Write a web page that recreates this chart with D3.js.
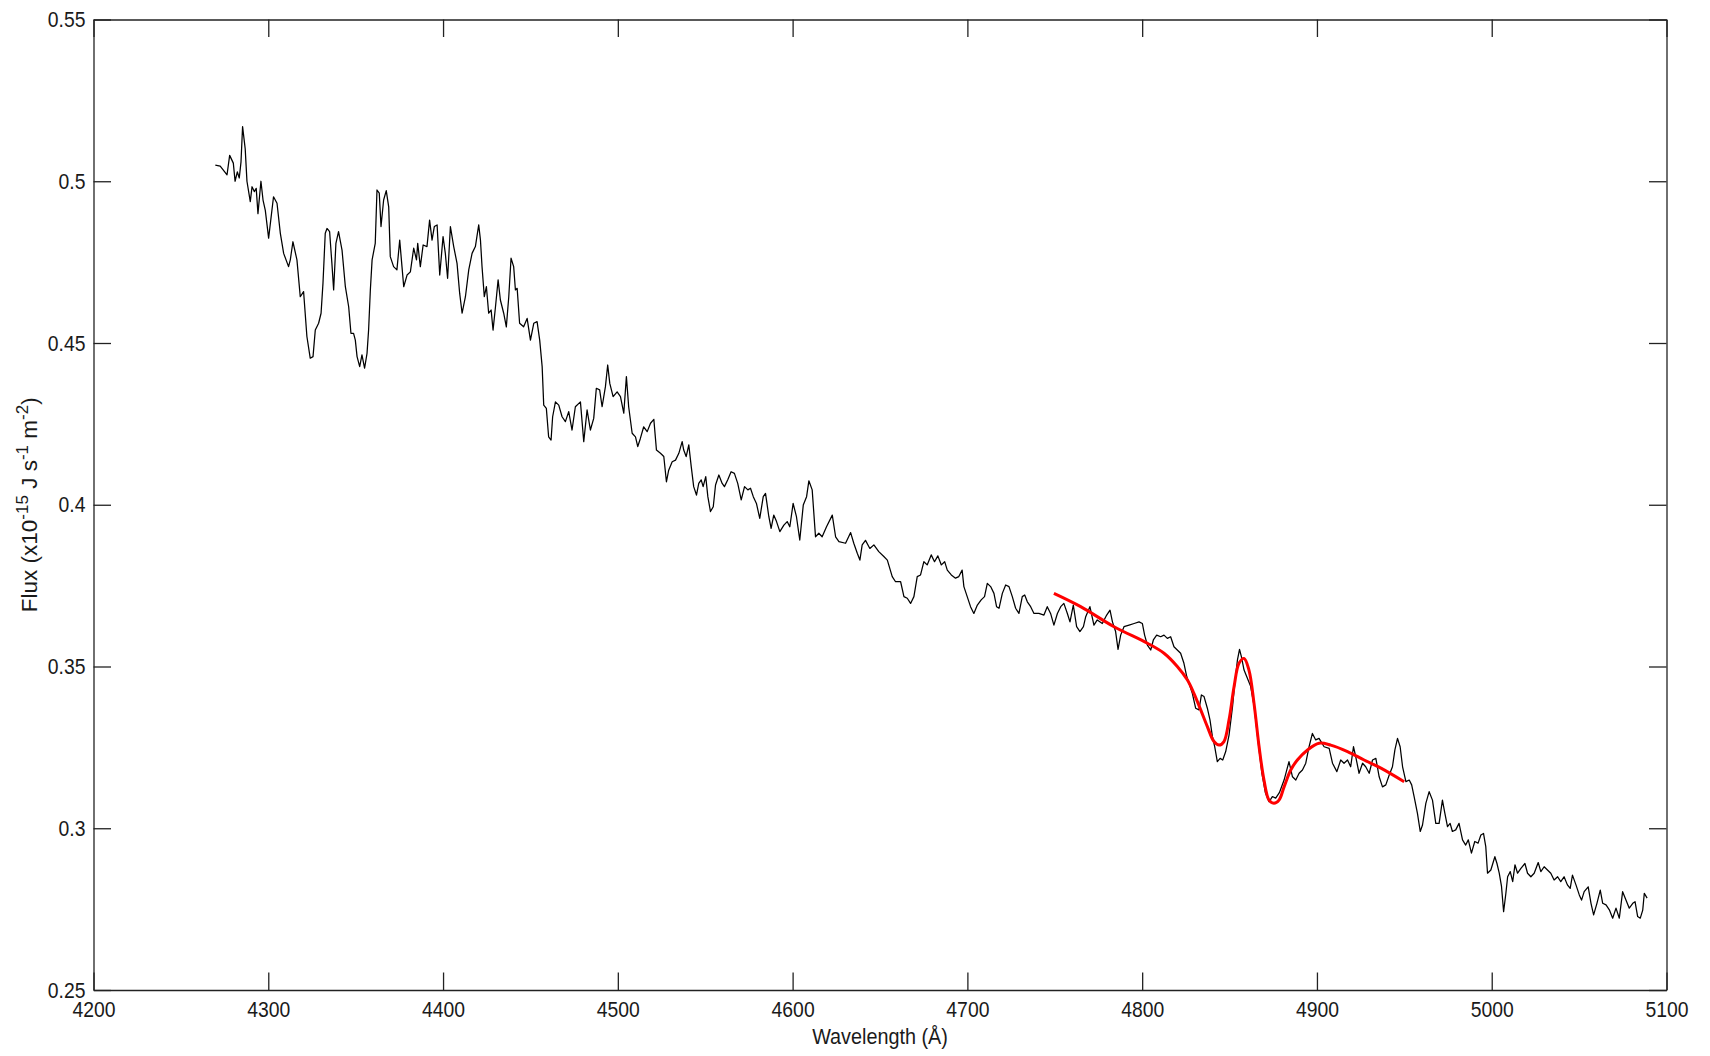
<!DOCTYPE html>
<html>
<head>
<meta charset="utf-8">
<script src="https://cdn.jsdelivr.net/npm/d3@7"></script>
<style>
  html, body { margin: 0; padding: 0; background: #fff; }
  svg { display: block; }
  text { font-family: "Liberation Sans", Arial, Helvetica, sans-serif; fill: #1a1a1a; }
</style>
</head>
<body>
<svg id="chart" width="1710" height="1056"></svg>
<script>
// Observed spectrum: wavelength (Å) and flux (x1e-15 J s^-1 m^-2)
const wavelength = [
  4269.7,4272.5,4276.4,4277.9,4280.0,4281.0,4282.3,4283.4,4284.4,4285.3,4286.8,4287.8,4289.7,4290.7,4292.0,4293.1,4294.1,4295.8,4297.0,4298.3,
  4300.2,4301.2,4303.0,4305.0,4306.9,4308.8,4311.6,4312.6,4314.1,4316.4,4318.3,4320.2,4322.1,4324.0,4325.6,4326.9,4328.8,4330.2,4331.3,4332.6,
  4333.6,4335.1,4336.4,4337.4,4338.7,4340.2,4342.2,4344.1,4346.0,4347.3,4348.8,4349.8,4350.8,4352.3,4353.6,4355.1,4356.5,4357.4,4358.4,4359.4,
  4361.2,4362.2,4363.5,4364.5,4366.0,4367.5,4368.9,4369.8,4371.7,4373.6,4375.2,4376.5,4377.5,4379.4,4381.3,4383.2,4384.8,4385.5,4387.0,4388.6,
  4390.8,4392.3,4393.7,4395.0,4396.6,4398.1,4400.0,4401.3,4402.6,4404.2,4406.1,4408.0,4409.5,4410.9,4412.8,4414.7,4416.6,4418.5,4420.4,4421.4,
  4422.3,4423.6,4424.8,4426.1,4427.5,4428.6,4430.0,4431.5,4432.8,4434.7,4436.2,4437.6,4438.9,4440.4,4441.4,4442.4,4443.8,4446.1,4448.1,4450.0,
  4451.9,4453.8,4455.3,4456.7,4457.6,4459.1,4460.4,4461.8,4462.7,4464.3,4466.2,4468.1,4470.0,4471.9,4473.8,4475.7,4478.6,4480.5,4482.4,4484.3,
  4486.2,4487.7,4489.6,4491.0,4492.9,4494.2,4495.4,4497.3,4499.6,4501.5,4503.4,4504.9,4506.2,4508.2,4510.1,4511.4,4512.9,4514.8,4516.8,4518.7,
  4520.6,4522.1,4524.4,4526.3,4527.8,4529.1,4531.1,4533.0,4534.9,4536.8,4537.7,4539.1,4540.6,4542.0,4543.4,4545.0,4546.3,4547.7,4548.8,4550.3,
  4551.5,4553.0,4554.6,4555.9,4557.8,4559.7,4561.0,4562.9,4564.8,4566.7,4568.6,4570.6,4572.5,4574.4,4575.9,4577.5,4579.3,4581.2,4583.2,4584.5,
  4586.4,4587.7,4589.2,4590.8,4592.7,4595.0,4596.9,4598.4,4600.3,4602.2,4604.1,4606.1,4608.0,4609.3,4611.2,4613.1,4615.0,4616.9,4619.4,4622.7,
  4624.6,4626.5,4630.3,4633.2,4635.0,4637.0,4638.5,4639.8,4641.7,4644.2,4646.5,4649.3,4652.2,4654.2,4657.0,4658.9,4661.8,4663.7,4665.6,4667.5,
  4669.4,4671.3,4673.2,4675.1,4677.0,4679.3,4681.2,4683.1,4685.1,4687.0,4688.5,4690.8,4693.2,4695.1,4697.0,4698.0,4699.9,4701.8,4703.7,4705.7,
  4707.9,4709.8,4711.4,4713.3,4715.2,4716.7,4718.1,4720.0,4721.9,4723.8,4725.7,4727.6,4729.5,4731.4,4732.8,4734.3,4736.2,4738.1,4740.9,4743.8,
  4745.7,4747.6,4749.5,4751.5,4753.4,4755.2,4757.2,4758.7,4760.6,4762.5,4764.4,4766.4,4767.7,4770.1,4772.4,4774.3,4777.2,4779.7,4781.6,4783.0,
  4784.8,4786.2,4787.7,4789.6,4792.5,4795.4,4798.2,4800.1,4801.4,4803.0,4804.9,4806.4,4808.3,4810.6,4812.5,4814.4,4816.3,4818.2,4820.1,4822.0,
  4823.9,4825.5,4826.8,4828.7,4830.6,4832.5,4833.9,4835.4,4837.3,4838.8,4840.2,4841.5,4843.0,4844.6,4846.1,4847.8,4849.7,4851.7,4853.0,4854.5,
  4855.7,4856.8,4858.3,4859.8,4862.0,4864.0,4866.5,4868.5,4870.5,4872.6,4874.5,4876.4,4878.5,4881.2,4884.0,4886.0,4887.9,4889.8,4891.7,4893.6,
  4895.5,4897.4,4899.3,4901.2,4904.1,4907.0,4908.9,4911.4,4913.6,4915.5,4917.5,4919.3,4920.9,4922.2,4924.1,4926.1,4927.9,4929.9,4931.8,4933.7,
  4935.6,4937.5,4939.4,4941.3,4943.2,4944.6,4946.1,4947.6,4949.0,4950.9,4952.8,4954.2,4955.6,4957.5,4959.1,4960.4,4962.3,4964.2,4966.1,4968.0,
  4969.9,4971.8,4973.2,4974.7,4976.2,4977.5,4979.4,4981.3,4983.3,4985.1,4986.6,4988.4,4990.3,4992.2,4993.8,4995.3,4996.6,4997.6,4999.5,5001.8,
  5003.0,5004.3,5005.6,5006.8,5008.1,5009.1,5010.6,5012.0,5013.3,5014.8,5016.7,5019.0,5020.5,5022.4,5024.3,5026.6,5028.1,5030.0,5031.9,5033.8,
  5035.7,5037.7,5039.5,5041.4,5043.3,5044.9,5046.2,5048.2,5050.1,5051.4,5052.9,5055.2,5056.8,5058.3,5060.2,5062.1,5063.5,5065.4,5067.3,5069.2,
  5071.1,5073.0,5074.9,5076.8,5078.7,5080.7,5082.0,5083.5,5085.0,5086.4,5087.3,5088.9
];
const flux = [
  0.5050,0.5047,0.5020,0.5080,0.5056,0.5000,0.5029,0.5010,0.5060,0.5169,0.5100,0.5000,0.4937,0.4983,0.4968,0.4978,0.4900,0.5000,0.4942,0.4910,
  0.4824,0.4870,0.4952,0.4932,0.4839,0.4777,0.4736,0.4757,0.4813,0.4757,0.4643,0.4659,0.4520,0.4453,0.4458,0.4540,0.4561,0.4592,0.4685,0.4839,
  0.4854,0.4844,0.4746,0.4664,0.4808,0.4844,0.4787,0.4674,0.4612,0.4530,0.4530,0.4509,0.4458,0.4427,0.4463,0.4422,0.4468,0.4540,0.4664,0.4757,
  0.4808,0.4973,0.4963,0.4860,0.4942,0.4971,0.4921,0.4767,0.4736,0.4726,0.4818,0.4736,0.4674,0.4710,0.4720,0.4793,0.4757,0.4808,0.4736,0.4803,
  0.4798,0.4880,0.4818,0.4860,0.4865,0.4710,0.4829,0.4777,0.4700,0.4860,0.4798,0.4746,0.4654,0.4592,0.4643,0.4726,0.4777,0.4798,0.4865,0.4818,
  0.4736,0.4643,0.4674,0.4592,0.4602,0.4540,0.4612,0.4695,0.4633,0.4592,0.4550,0.4643,0.4762,0.4736,0.4664,0.4669,0.4561,0.4550,0.4576,0.4509,
  0.4561,0.4566,0.4509,0.4427,0.4308,0.4298,0.4210,0.4200,0.4272,0.4318,0.4308,0.4272,0.4257,0.4288,0.4231,0.4303,0.4318,0.4195,0.4293,0.4231,
  0.4267,0.4360,0.4355,0.4303,0.4365,0.4432,0.4375,0.4334,0.4349,0.4334,0.4283,0.4396,0.4303,0.4221,0.4210,0.4180,0.4205,0.4241,0.4226,0.4252,
  0.4264,0.4169,0.4159,0.4149,0.4071,0.4107,0.4133,0.4138,0.4159,0.4195,0.4169,0.4149,0.4185,0.4118,0.4056,0.4030,0.4066,0.4077,0.4056,0.4087,
  0.4025,0.3979,0.3994,0.4061,0.4092,0.4066,0.4056,0.4077,0.4102,0.4097,0.4066,0.4015,0.4056,0.4046,0.4051,0.4025,0.4004,0.3958,0.4025,0.4035,
  0.3963,0.3927,0.3968,0.3948,0.3917,0.3937,0.3948,0.3932,0.4004,0.3963,0.3891,0.3999,0.4025,0.4074,0.4046,0.3901,0.3912,0.3901,0.3932,0.3968,
  0.3901,0.3886,0.3881,0.3914,0.3881,0.3850,0.3829,0.3876,0.3890,0.3865,0.3876,0.3855,0.3840,0.3829,0.3778,0.3762,0.3762,0.3716,0.3711,0.3695,
  0.3716,0.3778,0.3783,0.3824,0.3814,0.3845,0.3824,0.3842,0.3814,0.3824,0.3798,0.3783,0.3773,0.3778,0.3798,0.3747,0.3716,0.3685,0.3664,0.3690,
  0.3706,0.3716,0.3757,0.3747,0.3726,0.3685,0.3680,0.3726,0.3752,0.3747,0.3716,0.3680,0.3664,0.3716,0.3721,0.3700,0.3685,0.3664,0.3664,0.3659,
  0.3685,0.3664,0.3628,0.3664,0.3685,0.3695,0.3664,0.3638,0.3690,0.3623,0.3608,0.3623,0.3654,0.3685,0.3628,0.3644,0.3633,0.3659,0.3674,0.3638,
  0.3608,0.3553,0.3597,0.3623,0.3628,0.3633,0.3638,0.3633,0.3597,0.3566,0.3551,0.3582,0.3597,0.3592,0.3597,0.3587,0.3592,0.3561,0.3551,0.3541,
  0.3510,0.3469,0.3448,0.3417,0.3371,0.3366,0.3412,0.3407,0.3371,0.3335,0.3283,0.3252,0.3206,0.3216,0.3211,0.3237,0.3288,0.3376,0.3448,0.3520,
  0.3553,0.3530,0.3489,0.3469,0.3440,0.3380,0.3260,0.3170,0.3110,0.3082,0.3098,0.3093,0.3110,0.3149,0.3206,0.3159,0.3149,0.3170,0.3180,0.3201,
  0.3252,0.3293,0.3273,0.3278,0.3252,0.3247,0.3201,0.3175,0.3211,0.3201,0.3211,0.3190,0.3252,0.3221,0.3170,0.3201,0.3190,0.3170,0.3211,0.3216,
  0.3159,0.3128,0.3134,0.3164,0.3190,0.3242,0.3278,0.3252,0.3190,0.3144,0.3149,0.3134,0.3098,0.3046,0.2990,0.3010,0.3077,0.3113,0.3087,0.3015,
  0.3015,0.3087,0.3046,0.3005,0.3015,0.2990,0.2995,0.3015,0.2964,0.2948,0.2964,0.2923,0.2959,0.2954,0.2979,0.2984,0.2943,0.2861,0.2871,0.2912,
  0.2891,0.2861,0.2820,0.2742,0.2799,0.2850,0.2866,0.2835,0.2887,0.2861,0.2876,0.2891,0.2861,0.2850,0.2861,0.2894,0.2866,0.2881,0.2871,0.2861,
  0.2840,0.2850,0.2835,0.2850,0.2825,0.2814,0.2855,0.2825,0.2794,0.2778,0.2804,0.2819,0.2768,0.2732,0.2768,0.2809,0.2768,0.2763,0.2748,0.2722,
  0.2753,0.2722,0.2804,0.2778,0.2753,0.2768,0.2773,0.2727,0.2722,0.2747,0.2799,0.2784
];

// Model profile fitted across the line region
const fitWavelength = [
  4749.5,4764.8,4783.9,4803.0,4812.5,4820.1,4825.9,4829.6,4833.5,4837.3,4841.1,4844.0,4846.8,4849.7,4852.6,4855.4,4858.3,
  4861.1,4864.0,4866.9,4869.7,4872.6,4875.4,4878.3,4881.2,4885.0,4888.8,4894.6,4901.2,4907.9,4917.5,4927.0,4936.6,4949.9
];
const fitFlux = [
  0.3726,0.3685,0.3623,0.3572,0.3541,0.3500,0.3458,0.3417,0.3366,0.3314,0.3268,0.3257,0.3268,0.3335,0.3438,0.3510,0.3525,
  0.3489,0.3386,0.3252,0.3149,0.3087,0.3077,0.3087,0.3128,0.3180,0.3211,0.3242,0.3263,0.3257,0.3237,0.3211,0.3186,0.3144
];

// Axis ticks and labels
const xTicks = [4200, 4300, 4400, 4500, 4600, 4700, 4800, 4900, 5000, 5100];
const yTicks = [0.25, 0.30, 0.35, 0.40, 0.45, 0.50, 0.55];
const yTickLabels = ["0.25", "0.3", "0.35", "0.4", "0.45", "0.5", "0.55"];
const xLabel = "Wavelength (Å)";

const margin = { left: 93.5, top: 19.5, right: 43.5, bottom: 66 };
const W = 1710, H = 1056;
const innerW = W - margin.left - margin.right;
const innerH = H - margin.top - margin.bottom;
const squeeze = 0.88; // narrow glyph width of the axis font

const svg = d3.select("#chart");
const g = svg.append("g").attr("transform", `translate(${margin.left},${margin.top})`);

const x = d3.scaleLinear().domain([4200, 5100]).range([0, innerW]);
const y = d3.scaleLinear().domain([0.25, 0.55]).range([innerH, 0]);

const tickLen = 17.5;
const axisColor = "#222";

function styleAxis(sel) {
  sel.select(".domain").attr("stroke", axisColor).attr("stroke-width", 1.3);
  sel.selectAll(".tick line").attr("stroke", axisColor).attr("stroke-width", 1.3);
}

// Bottom axis
const xAxis = g.append("g").attr("transform", `translate(0,${innerH})`)
  .call(d3.axisBottom(x).tickValues(xTicks).tickFormat(d3.format("d"))
    .tickSizeInner(-tickLen).tickSizeOuter(0).tickPadding(11));
styleAxis(xAxis);
xAxis.selectAll(".tick text")
  .attr("font-size", 22)
  .attr("fill", "#1a1a1a")
  .attr("transform", `scale(${squeeze},1)`);

// Left axis
const yAxis = g.append("g")
  .call(d3.axisLeft(y).tickValues(yTicks).tickFormat((d, i) => yTickLabels[i])
    .tickSizeInner(-tickLen).tickSizeOuter(0).tickPadding(8));
styleAxis(yAxis);
yAxis.selectAll(".tick text")
  .attr("font-size", 22)
  .attr("fill", "#1a1a1a")
  .attr("x", null)
  .attr("transform", `translate(-8,0) scale(${squeeze},1)`);

// Top and right axes close the box
const xTop = g.append("g")
  .call(d3.axisTop(x).tickValues(xTicks).tickFormat("").tickSizeInner(-tickLen).tickSizeOuter(0));
styleAxis(xTop);
const yRight = g.append("g").attr("transform", `translate(${innerW},0)`)
  .call(d3.axisRight(y).tickValues(yTicks).tickFormat("").tickSizeInner(-tickLen).tickSizeOuter(0));
styleAxis(yRight);

// Spectrum
const spectrum = wavelength.map((w, i) => [w, flux[i]]);
g.append("path")
  .datum(spectrum)
  .attr("fill", "none")
  .attr("stroke", "#000")
  .attr("stroke-width", 1.25)
  .attr("stroke-linejoin", "round")
  .attr("d", d3.line().x(d => x(d[0])).y(d => y(d[1])));

// Fitted profile
const fit = fitWavelength.map((w, i) => [w, fitFlux[i]]);
g.append("path")
  .datum(fit)
  .attr("fill", "none")
  .attr("stroke", "#ff0000")
  .attr("stroke-width", 3)
  .attr("stroke-linejoin", "round")
  .attr("d", d3.line().x(d => x(d[0])).y(d => y(d[1])).curve(d3.curveCatmullRom.alpha(0.5)));

// Axis titles
svg.append("text")
  .attr("transform", `translate(${margin.left + innerW / 2},1044) scale(${squeeze},1)`)
  .attr("text-anchor", "middle")
  .attr("font-size", 22.5)
  .text(xLabel);

const yTitle = svg.append("text")
  .attr("transform", `translate(36.5,${margin.top + innerH / 2}) rotate(-90)`)
  .attr("text-anchor", "middle")
  .attr("font-size", 22.5);
const parts = [
  ["Flux (x10", false], ["-15", true], [" J s", false], ["-1", true], [" m", false], ["-2", true], [")", false]
];
parts.forEach(([t, sup]) => {
  const ts = yTitle.append("tspan").text(t);
  if (sup) ts.attr("font-size", 17).attr("baseline-shift", "super");
  else ts.attr("font-size", 22.5);
});
</script>
</body>
</html>
